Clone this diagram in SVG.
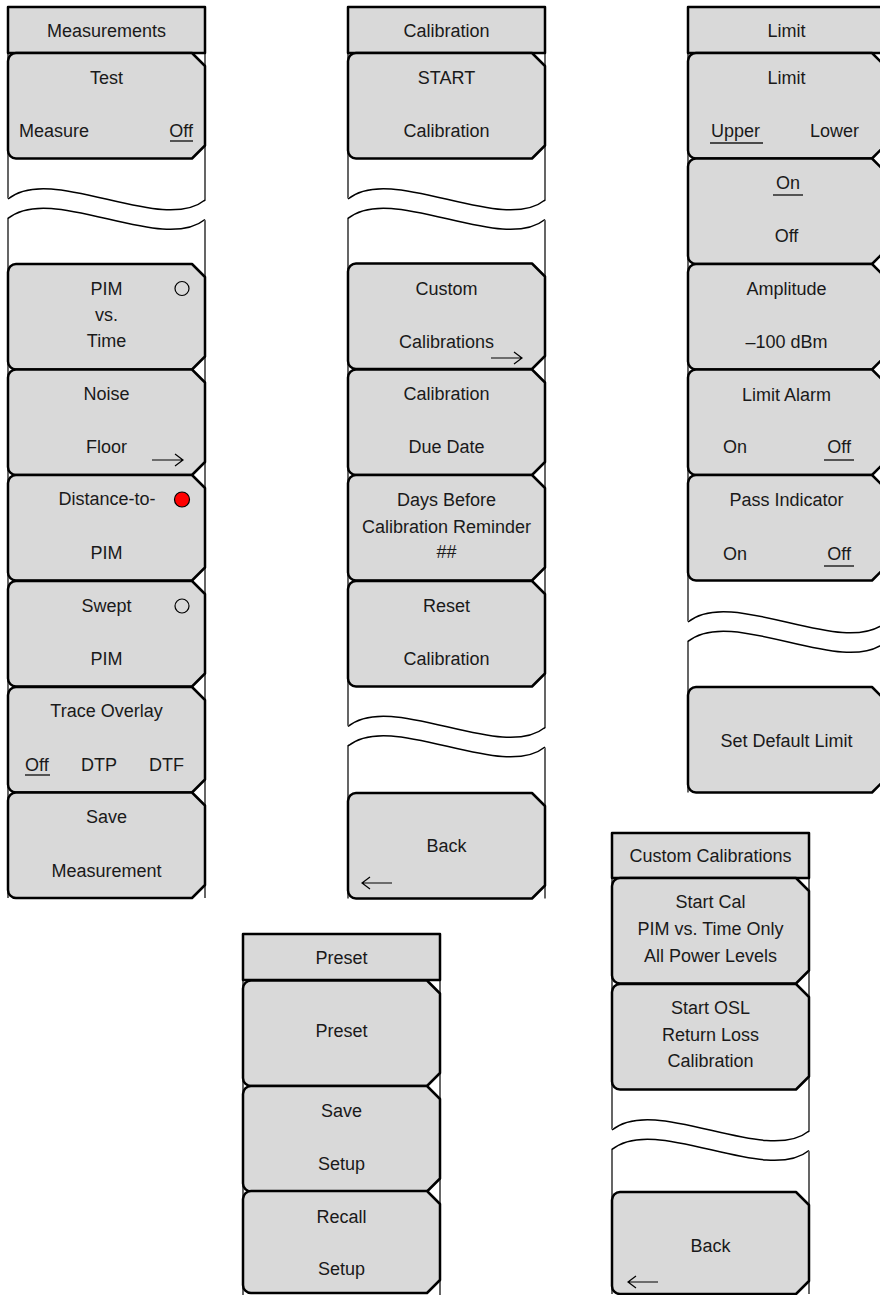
<svg xmlns="http://www.w3.org/2000/svg" xmlns:xlink="http://www.w3.org/1999/xlink" width="880" height="1295" viewBox="0 0 880 1295">
<style>
.btn{fill:#d9d9d9;stroke:#000;stroke-width:2.5;stroke-linejoin:round}
.frame{fill:none;stroke:#000;stroke-width:1.2}
.wave{fill:none;stroke:#000;stroke-width:1.5}
.band{fill:#fff;stroke:none}
text{font-family:"Liberation Sans",Arial,Helvetica,sans-serif;font-size:18px;fill:#1a1a1a}
.c{text-anchor:middle}
.e{text-anchor:end}
.ul{stroke:#1a1a1a;stroke-width:1.4;fill:none}
.arr{fill:none;stroke:#000;stroke-width:1.2}
.radio{fill:none;stroke:#000;stroke-width:1.2}
.radio-on{fill:#ff0000;stroke:#000;stroke-width:1.2}
</style>
<defs>
<path id="b" d="M8,0 H184 L197,13 V92.5 L184,105.5 H8 A8,8 0 0 1 0,97.5 V8 A8,8 0 0 1 8,0 Z"/>
<path id="bs" d="M8,0 H184 L197,13 V89 L184,102 H8 A8,8 0 0 1 0,94 V8 A8,8 0 0 1 8,0 Z"/>
<g id="brk">
<path class="band" d="M-1.5,0 C43,-36 154,36 198.5,1 L198.5,20.5 C154,55.5 43,-16.5 -1.5,19.5 Z"/>
<path class="wave" d="M0,0 C43,-36 154,36 197,1"/>
<path class="wave" d="M0,19.5 C43,-16.5 154,55.5 197,20.5"/>
</g>
<path id="ra" class="arr" d="M0,0 H31 M23,-6 L31,0 L23,6"/>
<path id="la" class="arr" d="M0,0 H30 M8,-6 L0,0 L8,6"/>
</defs>

<g id="connectors"/>

<g id="panel-measurements">
<path class="frame" d="M8,53 V898 M205,53 V898"/>
<use xlink:href="#brk" x="8" y="199"/>
<g id="m-title"><rect class="btn" x="8" y="7" width="197" height="46"/><text class="c" x="106.5" y="37">Measurements</text></g>
<g id="m-test"><use xlink:href="#b" class="btn" x="8" y="53"/><text class="c" x="106.5" y="83.5">Test</text><text x="19" y="137">Measure</text><text class="e" x="193" y="137">Off</text><path class="ul" d="M170,141 H193"/></g>
<g id="m-pimtime"><use xlink:href="#b" class="btn" x="8" y="264"/><text class="c" x="106.5" y="295">PIM</text><text class="c" x="106.5" y="321">vs.</text><text class="c" x="106.5" y="347">Time</text><circle class="radio" cx="182" cy="288.5" r="7"/></g>
<g id="m-noise"><use xlink:href="#b" class="btn" x="8" y="369.5"/><text class="c" x="106.5" y="400">Noise</text><text class="c" x="106.5" y="453">Floor</text><use xlink:href="#ra" x="152" y="460"/></g>
<g id="m-dtp"><use xlink:href="#b" class="btn" x="8" y="475"/><text class="c" x="107" y="505">Distance-to-</text><text class="c" x="106.5" y="559">PIM</text><circle class="radio-on" cx="182" cy="499.5" r="7.5"/></g>
<g id="m-swept"><use xlink:href="#b" class="btn" x="8" y="581"/><text class="c" x="106.5" y="611.5">Swept</text><text class="c" x="106.5" y="665">PIM</text><circle class="radio" cx="182" cy="606" r="7"/></g>
<g id="m-trace"><use xlink:href="#b" class="btn" x="8" y="687"/><text class="c" x="106.5" y="716.5">Trace Overlay</text><text x="25" y="771">Off</text><path class="ul" d="M25,775 H50"/><text class="c" x="99" y="771">DTP</text><text class="c" x="166.5" y="771">DTF</text></g>
<g id="m-save"><use xlink:href="#b" class="btn" x="8" y="792.5"/><text class="c" x="106.5" y="823">Save</text><text class="c" x="106.5" y="877">Measurement</text></g>
</g>

<g id="panel-calibration">
<path class="frame" d="M348,53 V898.5 M545,53 V898.5"/>
<use xlink:href="#brk" x="348" y="199"/>
<use xlink:href="#brk" x="348" y="726.5"/>
<g id="c-title"><rect class="btn" x="348" y="7" width="197" height="46"/><text class="c" x="446.5" y="37">Calibration</text></g>
<g id="c-start"><use xlink:href="#b" class="btn" x="348" y="53"/><text class="c" x="446.5" y="83.5">START</text><text class="c" x="446.5" y="137">Calibration</text></g>
<g id="c-custom"><use xlink:href="#b" class="btn" x="348" y="263.5"/><text class="c" x="446.5" y="294.5">Custom</text><text class="c" x="446.5" y="348">Calibrations</text><use xlink:href="#ra" x="491" y="358"/></g>
<g id="c-due"><use xlink:href="#b" class="btn" x="348" y="369.5"/><text class="c" x="446.5" y="400">Calibration</text><text class="c" x="446.5" y="453">Due Date</text></g>
<g id="c-days"><use xlink:href="#b" class="btn" x="348" y="475"/><text class="c" x="446.5" y="506">Days Before</text><text class="c" x="446.5" y="532.5">Calibration Reminder</text><text class="c" x="446.5" y="558">##</text></g>
<g id="c-reset"><use xlink:href="#b" class="btn" x="348" y="581"/><text class="c" x="446.5" y="611.5">Reset</text><text class="c" x="446.5" y="665">Calibration</text></g>
<g id="c-back"><use xlink:href="#b" class="btn" x="348" y="793"/><text class="c" x="446.5" y="852">Back</text><use xlink:href="#la" x="362" y="883"/></g>
</g>

<g id="panel-limit">
<path class="frame" d="M688,53 V792.5 M885,53 V792.5"/>
<use xlink:href="#brk" x="688" y="622"/>
<g id="l-title"><rect class="btn" x="688" y="7" width="197" height="46"/><text class="c" x="786.5" y="37">Limit</text></g>
<g id="l-limit"><use xlink:href="#b" class="btn" x="688" y="53"/><text class="c" x="786.5" y="83.5">Limit</text><text x="711" y="137">Upper</text><path class="ul" d="M710,143 H763"/><text class="e" x="859" y="137">Lower</text></g>
<g id="l-onoff"><use xlink:href="#b" class="btn" x="688" y="158.5"/><text class="c" x="788" y="188.5">On</text><path class="ul" d="M773,195 H803"/><text class="c" x="786.5" y="242">Off</text></g>
<g id="l-amp"><use xlink:href="#b" class="btn" x="688" y="264"/><text class="c" x="786.5" y="294.5">Amplitude</text><text class="c" x="786.5" y="348">–100 dBm</text></g>
<g id="l-alarm"><use xlink:href="#b" class="btn" x="688" y="369.5"/><text class="c" x="786.5" y="400.5">Limit Alarm</text><text x="723" y="453">On</text><text class="e" x="851" y="453">Off</text><path class="ul" d="M824,460 H854"/></g>
<g id="l-pass"><use xlink:href="#b" class="btn" x="688" y="475"/><text class="c" x="786.5" y="506">Pass Indicator</text><text x="723" y="560">On</text><text class="e" x="851" y="560">Off</text><path class="ul" d="M824,566 H854"/></g>
<g id="l-default"><use xlink:href="#b" class="btn" x="688" y="687"/><text class="c" x="786.5" y="747">Set Default Limit</text></g>
</g>

<g id="panel-custom-cal">
<path class="frame" d="M612,878 V1294 M809,878 V1294"/>
<use xlink:href="#brk" x="612" y="1130"/>
<g id="cc-title"><rect class="btn" x="612" y="833" width="197" height="45"/><text class="c" x="710.5" y="862">Custom Calibrations</text></g>
<g id="cc-pim"><use xlink:href="#b" class="btn" x="612" y="878"/><text class="c" x="710.5" y="908">Start Cal</text><text class="c" x="710.5" y="935">PIM vs. Time Only</text><text class="c" x="710.5" y="961.5">All Power Levels</text></g>
<g id="cc-osl"><use xlink:href="#b" class="btn" x="612" y="984"/><text class="c" x="710.5" y="1014">Start OSL</text><text class="c" x="710.5" y="1040.5">Return Loss</text><text class="c" x="710.5" y="1066.5">Calibration</text></g>
<g id="cc-back"><use xlink:href="#bs" class="btn" x="612" y="1192"/><text class="c" x="710.5" y="1251.5">Back</text><use xlink:href="#la" x="628" y="1282"/></g>
</g>

<g id="panel-preset">
<path class="frame" d="M243,980 V1295 M440,980 V1295"/>
<g id="p-title"><rect class="btn" x="243" y="934" width="197" height="46"/><text class="c" x="341.5" y="963.5">Preset</text></g>
<g id="p-preset"><use xlink:href="#b" class="btn" x="243" y="980.5"/><text class="c" x="341.5" y="1036.5">Preset</text></g>
<g id="p-save"><use xlink:href="#b" class="btn" x="243" y="1086"/><text class="c" x="341.5" y="1116.5">Save</text><text class="c" x="341.5" y="1170">Setup</text></g>
<g id="p-recall"><use xlink:href="#bs" class="btn" x="243" y="1191"/><text class="c" x="341.5" y="1222.5">Recall</text><text class="c" x="341.5" y="1275">Setup</text></g>
</g>
</svg>
